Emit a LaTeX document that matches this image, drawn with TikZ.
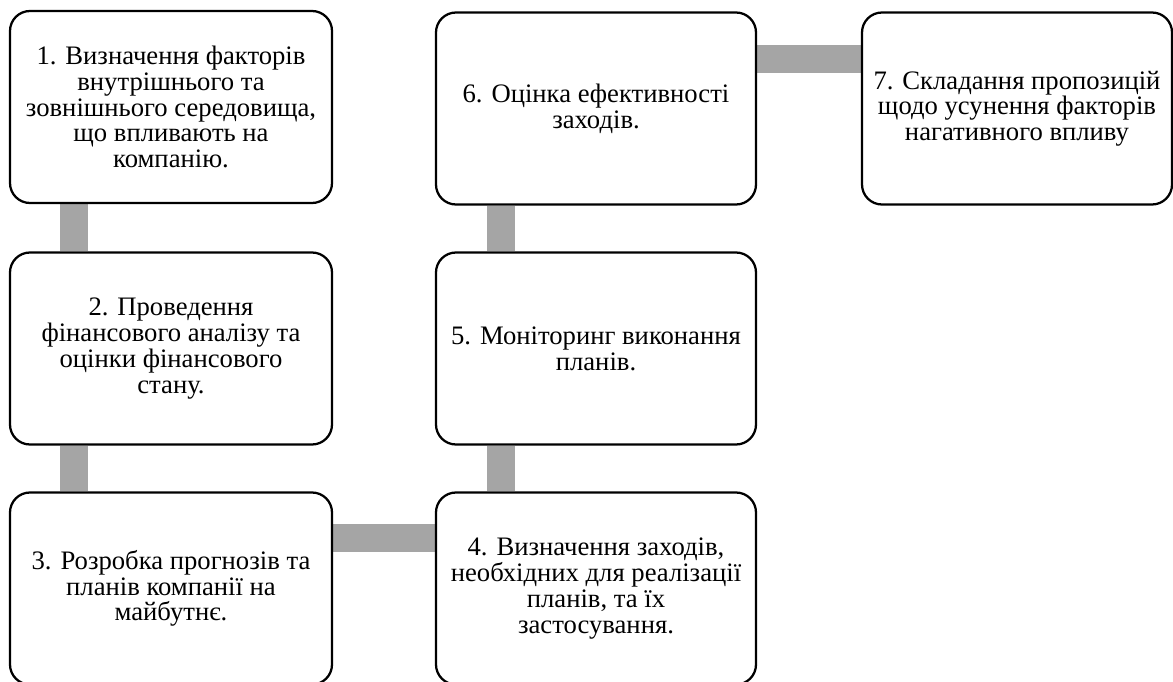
\documentclass[tikz,border=0pt]{standalone}
\usepackage{fontspec}
\setmainfont{Liberation Serif}
\usepackage{tikz}
\usetikzlibrary{calc,backgrounds}

\begin{document}
\begin{tikzpicture}[x=0.75pt,y=0.75pt,yscale=-1,xscale=1,
        stepbox/.style={draw, line width=1.7pt, rounded corners=15pt, fill=white,
            minimum width=241.5pt, minimum height=144pt, align=center,
            font=\fontsize{20}{19.3}\selectfont},
        link/.style={draw={rgb, 255:red, 165; green, 165; blue, 165}, line width=21pt}]
        \useasboundingbox (0,0) rectangle (1173,681);
        \clip (0,0) rectangle (1173,681);

        %Shape: Rounded Rect [id:b1]
        \node[stepbox] (b1) at (171,107) {1. Визначення факторів\\внутрішнього та\\зовнішнього середовища,\\що впливають на\\компанію.};
        %Shape: Rounded Rect [id:b2]
        \node[stepbox] (b2) at (171,348.5) {2. Проведення\\фінансового аналізу та\\оцінки фінансового\\стану.};
        %Shape: Rounded Rect [id:b3]
        \node[stepbox] (b3) at (171,588.5) {3. Розробка прогнозів та\\планів компанії на\\майбутнє.};
        %Shape: Rounded Rect [id:b4]
        \node[stepbox, minimum width=240pt] (b4) at (596,588.5) {4. Визначення заходів,\\необхідних для реалізації\\планів, та їх\\застосування.};
        %Shape: Rounded Rect [id:b5]
        \node[stepbox, minimum width=240pt] (b5) at (596,348.5) {5. Моніторинг виконання\\планів.};
        %Shape: Rounded Rect [id:b6]
        \node[stepbox, minimum width=240pt] (b6) at (596,108.5) {6. Оцінка ефективності\\заходів.};
        %Shape: Rounded Rect [id:b7]
        \node[stepbox, minimum width=232.5pt] (b7) at (1017,108.5) {7. Складання пропозицій\\щодо усунення факторів\\нагативного впливу};

        \begin{scope}[on background layer]
        %Straight Lines [id:l12]
        \draw[link] ($(b1.south west)+(65,0)$) -- ($(b2.north west)+(65,0)$);
        %Straight Lines [id:l23]
        \draw[link] ($(b2.south west)+(65,0)$) -- ($(b3.north west)+(65,0)$);
        %Straight Lines [id:l34]
        \draw[link] ($(b3.north east)+(0,47)$) -- ($(b4.north west)+(0,47)$);
        %Straight Lines [id:l45]
        \draw[link] ($(b4.north west)+(66,0)$) -- ($(b5.south west)+(66,0)$);
        %Straight Lines [id:l56]
        \draw[link] ($(b5.north west)+(66,0)$) -- ($(b6.south west)+(66,0)$);
        %Straight Lines [id:l67]
        \draw[link] ($(b6.north east)+(0,47.5)$) -- ($(b7.north west)+(0,47.5)$);
        \end{scope}

\end{tikzpicture}
\end{document}
